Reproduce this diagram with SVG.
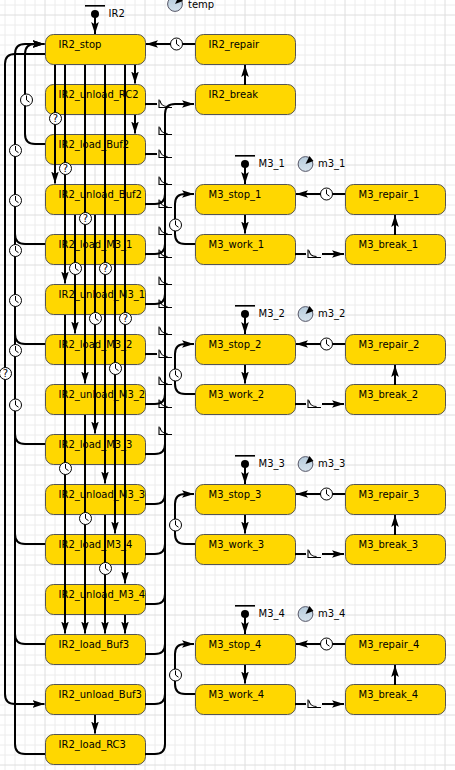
<svg xmlns="http://www.w3.org/2000/svg" width="455" height="770" viewBox="0 0 455 770">
<style>
.n{fill:#FFD700;stroke:#555;stroke-width:1}
text{font-family:"DejaVu Sans",sans-serif;font-size:10px;fill:#000}
.c{fill:none;stroke:#000;stroke-width:2}
.a{fill:none;stroke:#000;stroke-width:2;marker-end:url(#ah)}
.q{font-size:10px;text-anchor:middle}
.gm{fill:none;stroke:#ececec;stroke-width:1}
.gM{fill:none;stroke:#dedede;stroke-width:1}
.bar{fill:#000}
</style>
<defs>
<marker id="ah" markerUnits="userSpaceOnUse" markerWidth="13" markerHeight="9" refX="12" refY="4.5" orient="auto"><path d="M0 0.7L12 4.5L0 8.3L2.5 4.5Z" fill="#000"/></marker>
<g id="clk"><circle r="6" fill="#fff" stroke="#000" stroke-width="1"/><path d="M0-4.5V0L3 2.2" fill="none" stroke="#000" stroke-width="1"/></g>
<g id="qc"><circle r="6" fill="#fff" stroke="#000" stroke-width="1"/></g>
<g id="rate"><path d="M0 -4.5V3.5H13M1 -3.5Q2 2.5 8.5 2.5" fill="none" stroke="#000" stroke-width="1.1"/></g>
<linearGradient id="gg" x1="0" y1="0" x2="0" y2="1"><stop offset="0" stop-color="#b4cadb"/><stop offset="1" stop-color="#d6e3ec"/></linearGradient>
<g id="gauge"><circle r="7.4" fill="url(#gg)" stroke="#556" stroke-width="1"/><path d="M0 0L8-3L4-8Z" fill="#000"/></g>
</defs>
<g id="grid">
<path class="gm" d="M5 0V770M15 0V770M25 0V770M35 0V770M55 0V770M65 0V770M75 0V770M85 0V770M105 0V770M115 0V770M125 0V770M135 0V770M155 0V770M165 0V770M175 0V770M185 0V770M205 0V770M215 0V770M225 0V770M235 0V770M255 0V770M265 0V770M275 0V770M285 0V770M305 0V770M315 0V770M325 0V770M335 0V770M355 0V770M365 0V770M375 0V770M385 0V770M405 0V770M415 0V770M425 0V770M435 0V770M0 5H455M0 25H455M0 35H455M0 45H455M0 55H455M0 75H455M0 85H455M0 95H455M0 105H455M0 125H455M0 135H455M0 145H455M0 155H455M0 175H455M0 185H455M0 195H455M0 205H455M0 225H455M0 235H455M0 245H455M0 255H455M0 275H455M0 285H455M0 295H455M0 305H455M0 325H455M0 335H455M0 345H455M0 355H455M0 375H455M0 385H455M0 395H455M0 405H455M0 425H455M0 435H455M0 445H455M0 455H455M0 475H455M0 485H455M0 495H455M0 505H455M0 525H455M0 535H455M0 545H455M0 555H455M0 575H455M0 585H455M0 595H455M0 605H455M0 625H455M0 635H455M0 645H455M0 655H455M0 675H455M0 685H455M0 695H455M0 705H455M0 725H455M0 735H455M0 745H455M0 755H455"/>
<path class="gM" d="M45 0V770M95 0V770M145 0V770M195 0V770M245 0V770M295 0V770M345 0V770M395 0V770M445 0V770M0 15H455M0 65H455M0 115H455M0 165H455M0 215H455M0 265H455M0 315H455M0 365H455M0 415H455M0 465H455M0 515H455M0 565H455M0 615H455M0 665H455M0 715H455M0 765H455"/>
</g>
<g id="IR2_stop"><rect class="n" x="45.5" y="34.5" width="100" height="30" rx="8"/><text x="58.5" y="47.5">IR2_stop</text></g>
<g id="IR2_unload_RC2"><rect class="n" x="45.5" y="84.5" width="100" height="30" rx="8"/><text x="58.5" y="97.5">IR2_unload_RC2</text></g>
<g id="IR2_load_Buf2"><rect class="n" x="45.5" y="134.5" width="100" height="30" rx="8"/><text x="58.5" y="147.5">IR2_load_Buf2</text></g>
<g id="IR2_unload_Buf2"><rect class="n" x="45.5" y="184.5" width="100" height="30" rx="8"/><text x="58.5" y="197.5">IR2_unload_Buf2</text></g>
<g id="IR2_load_M3_1"><rect class="n" x="45.5" y="234.5" width="100" height="30" rx="8"/><text x="58.5" y="247.5">IR2_load_M3_1</text></g>
<g id="IR2_unload_M3_1"><rect class="n" x="45.5" y="284.5" width="100" height="30" rx="8"/><text x="58.5" y="297.5">IR2_unload_M3_1</text></g>
<g id="IR2_load_M3_2"><rect class="n" x="45.5" y="334.5" width="100" height="30" rx="8"/><text x="58.5" y="347.5">IR2_load_M3_2</text></g>
<g id="IR2_unload_M3_2"><rect class="n" x="45.5" y="384.5" width="100" height="30" rx="8"/><text x="58.5" y="397.5">IR2_unload_M3_2</text></g>
<g id="IR2_load_M3_3"><rect class="n" x="45.5" y="434.5" width="100" height="30" rx="8"/><text x="58.5" y="447.5">IR2_load_M3_3</text></g>
<g id="IR2_unload_M3_3"><rect class="n" x="45.5" y="484.5" width="100" height="30" rx="8"/><text x="58.5" y="497.5">IR2_unload_M3_3</text></g>
<g id="IR2_load_M3_4"><rect class="n" x="45.5" y="534.5" width="100" height="30" rx="8"/><text x="58.5" y="547.5">IR2_load_M3_4</text></g>
<g id="IR2_unload_M3_4"><rect class="n" x="45.5" y="584.5" width="100" height="30" rx="8"/><text x="58.5" y="597.5">IR2_unload_M3_4</text></g>
<g id="IR2_load_Buf3"><rect class="n" x="45.5" y="634.5" width="100" height="30" rx="8"/><text x="58.5" y="647.5">IR2_load_Buf3</text></g>
<g id="IR2_unload_Buf3"><rect class="n" x="45.5" y="684.5" width="100" height="30" rx="8"/><text x="58.5" y="697.5">IR2_unload_Buf3</text></g>
<g id="IR2_load_RC3"><rect class="n" x="45.5" y="734.5" width="100" height="30" rx="8"/><text x="58.5" y="747.5">IR2_load_RC3</text></g>
<g id="IR2_repair"><rect class="n" x="195.5" y="34.5" width="100" height="30" rx="8"/><text x="208.5" y="47.5">IR2_repair</text></g>
<g id="IR2_break"><rect class="n" x="195.5" y="84.5" width="100" height="30" rx="8"/><text x="208.5" y="97.5">IR2_break</text></g>
<g id="M3_stop_1"><rect class="n" x="195.5" y="184.5" width="100" height="30" rx="8"/><text x="208.5" y="197.5">M3_stop_1</text></g>
<g id="M3_work_1"><rect class="n" x="195.5" y="234.5" width="100" height="30" rx="8"/><text x="208.5" y="247.5">M3_work_1</text></g>
<g id="M3_repair_1"><rect class="n" x="345.5" y="184.5" width="100" height="30" rx="8"/><text x="358.5" y="197.5">M3_repair_1</text></g>
<g id="M3_break_1"><rect class="n" x="345.5" y="234.5" width="100" height="30" rx="8"/><text x="358.5" y="247.5">M3_break_1</text></g>
<g id="M3_stop_2"><rect class="n" x="195.5" y="334.5" width="100" height="30" rx="8"/><text x="208.5" y="347.5">M3_stop_2</text></g>
<g id="M3_work_2"><rect class="n" x="195.5" y="384.5" width="100" height="30" rx="8"/><text x="208.5" y="397.5">M3_work_2</text></g>
<g id="M3_repair_2"><rect class="n" x="345.5" y="334.5" width="100" height="30" rx="8"/><text x="358.5" y="347.5">M3_repair_2</text></g>
<g id="M3_break_2"><rect class="n" x="345.5" y="384.5" width="100" height="30" rx="8"/><text x="358.5" y="397.5">M3_break_2</text></g>
<g id="M3_stop_3"><rect class="n" x="195.5" y="484.5" width="100" height="30" rx="8"/><text x="208.5" y="497.5">M3_stop_3</text></g>
<g id="M3_work_3"><rect class="n" x="195.5" y="534.5" width="100" height="30" rx="8"/><text x="208.5" y="547.5">M3_work_3</text></g>
<g id="M3_repair_3"><rect class="n" x="345.5" y="484.5" width="100" height="30" rx="8"/><text x="358.5" y="497.5">M3_repair_3</text></g>
<g id="M3_break_3"><rect class="n" x="345.5" y="534.5" width="100" height="30" rx="8"/><text x="358.5" y="547.5">M3_break_3</text></g>
<g id="M3_stop_4"><rect class="n" x="195.5" y="634.5" width="100" height="30" rx="8"/><text x="208.5" y="647.5">M3_stop_4</text></g>
<g id="M3_work_4"><rect class="n" x="195.5" y="684.5" width="100" height="30" rx="8"/><text x="208.5" y="697.5">M3_work_4</text></g>
<g id="M3_repair_4"><rect class="n" x="345.5" y="634.5" width="100" height="30" rx="8"/><text x="358.5" y="647.5">M3_repair_4</text></g>
<g id="M3_break_4"><rect class="n" x="345.5" y="684.5" width="100" height="30" rx="8"/><text x="358.5" y="697.5">M3_break_4</text></g>
<g id="var_IR2"><rect class="bar" x="85" y="5" width="20" height="1.6"/><circle cx="95" cy="14" r="4"/><text x="108.5" y="17">IR2</text></g>
<g id="var_temp"><use href="#gauge" x="175" y="4"/><text x="188" y="7.5">temp</text></g>
<g id="var_M3_1"><rect class="bar" x="235" y="155" width="20" height="1.6"/><circle cx="245" cy="164" r="4"/><text x="258.5" y="167">M3_1</text></g>
<g id="var_m3_1"><use href="#gauge" x="305.5" y="164"/><text x="318" y="167">m3_1</text></g>
<g id="var_M3_2"><rect class="bar" x="235" y="305" width="20" height="1.6"/><circle cx="245" cy="314" r="4"/><text x="258.5" y="317">M3_2</text></g>
<g id="var_m3_2"><use href="#gauge" x="305.5" y="314"/><text x="318" y="317">m3_2</text></g>
<g id="var_M3_3"><rect class="bar" x="235" y="455" width="20" height="1.6"/><circle cx="245" cy="464" r="4"/><text x="258.5" y="467">M3_3</text></g>
<g id="var_m3_3"><use href="#gauge" x="305.5" y="464"/><text x="318" y="467">m3_3</text></g>
<g id="var_M3_4"><rect class="bar" x="235" y="605" width="20" height="1.6"/><circle cx="245" cy="614" r="4"/><text x="258.5" y="617">M3_4</text></g>
<g id="var_m3_4"><use href="#gauge" x="305.5" y="614"/><text x="318" y="617">m3_4</text></g>
<g id="connectors">
<path class="a" d="M95 14V34"/>
<path class="a" d="M245 164V184"/><path class="a" d="M245 314V334"/><path class="a" d="M245 464V484"/><path class="a" d="M245 614V634"/>
<path class="a" d="M195 44H146"/>
<path class="a" d="M245 85V65"/>
<path class="a" d="M135 65V83.500"/><path class="a" d="M135 115V133.500"/>
<path class="a" d="M95 715V733.500"/>
<path class="a" d="M55 65V183.500"/>
<path class="a" d="M65 65V283.500"/>
<path class="a" d="M85 65V383.500"/>
<path class="a" d="M105 65V483.500"/>
<path class="a" d="M125 65V583.500"/>
<path class="a" d="M75 215V333.500"/>
<path class="a" d="M95 215V433.500"/>
<path class="a" d="M115 215V533.500"/>
<path class="a" d="M65 315V633.500"/>
<path class="a" d="M85 415V633.500"/>
<path class="a" d="M105 515V633.500"/>
<path class="a" d="M125 615V633.500"/>
<path class="a" d="M45 54H15Q5 54 5 64V694Q5 704 15 704H44.500"/>
<path class="a" d="M45 754H25Q15 754 15 744V54Q15 44 25 44H44.500"/>
<path class="a" d="M45 144H35Q25 144 25 134V54Q25 44 35 44H44.500"/>
<path class="c" d="M45 244H25Q15 244 15 234"/>
<path class="c" d="M45 344H25Q15 344 15 334"/>
<path class="c" d="M45 444H25Q15 444 15 434"/>
<path class="c" d="M45 544H25Q15 544 15 534"/>
<path class="c" d="M45 644H25Q15 644 15 634"/>
<path class="a" d="M145 754H155Q165 754 165 744V114Q165 104 175 104H194"/>
<path class="c" d="M145 104H157"/>
<path class="c" d="M145 154H157"/>
<path class="c" d="M145 204H155Q165 204 165 194"/>
<path class="c" d="M145 254H155Q165 254 165 244"/>
<path class="c" d="M145 304H155Q165 304 165 294"/>
<path class="c" d="M145 354H157"/>
<path class="c" d="M145 404H155Q165 404 165 394"/>
<path class="c" d="M145 454H155Q165 454 165 444"/>
<path class="c" d="M145 504H155Q165 504 165 494"/>
<path class="c" d="M145 554H155Q165 554 165 544"/>
<path class="c" d="M145 604H155Q165 604 165 594"/>
<path class="c" d="M145 654H155Q165 654 165 644"/>
<path class="c" d="M145 704H155Q165 704 165 694"/>
<path class="a" d="M195 244H185Q175 244 175 234V204Q175 194 185 194H194"/>
<path class="a" d="M195 394H185Q175 394 175 384V354Q175 344 185 344H194"/>
<path class="a" d="M195 544H185Q175 544 175 534V504Q175 494 185 494H194"/>
<path class="a" d="M195 694H185Q175 694 175 684V654Q175 644 185 644H194"/>
<path class="a" d="M245 215V233.500"/><path class="a" d="M245 365V383.500"/><path class="a" d="M245 515V533.500"/><path class="a" d="M245 665V683.500"/>
<path class="a" d="M345 194H296"/><path class="a" d="M345 344H296"/><path class="a" d="M345 494H296"/><path class="a" d="M345 644H296"/>
<path class="a" d="M395 235V215"/><path class="a" d="M395 385V365"/><path class="a" d="M395 535V515"/><path class="a" d="M395 685V665"/>
<path class="c" d="M295 254H306"/><path class="a" d="M322 254H344"/>
<path class="c" d="M295 404H306"/><path class="a" d="M322 404H344"/>
<path class="c" d="M295 554H306"/><path class="a" d="M322 554H344"/>
<path class="c" d="M295 704H306"/><path class="a" d="M322 704H344"/>
<use href="#rate" x="308" y="254"/><use href="#rate" x="308" y="404"/><use href="#rate" x="308" y="554"/><use href="#rate" x="308" y="704"/>
<use href="#rate" x="159" y="104"/><use href="#rate" x="159" y="131"/><use href="#rate" x="159" y="154"/><use href="#rate" x="159" y="181"/><use href="#rate" x="159" y="204"/><use href="#rate" x="159" y="231"/><use href="#rate" x="159" y="254"/><use href="#rate" x="159" y="281"/><use href="#rate" x="159" y="304"/><use href="#rate" x="159" y="331"/><use href="#rate" x="159" y="354"/><use href="#rate" x="159" y="381"/><use href="#rate" x="159" y="404"/><use href="#rate" x="159" y="431"/>
<use href="#clk" x="176.500" y="44"/>
<use href="#clk" x="326.500" y="194"/><use href="#clk" x="326.500" y="344"/><use href="#clk" x="326.500" y="494"/><use href="#clk" x="326.500" y="644"/>
<use href="#clk" x="175.500" y="225"/><use href="#clk" x="175.500" y="375"/><use href="#clk" x="175.500" y="525"/><use href="#clk" x="175.500" y="675"/>
<use href="#clk" x="26.500" y="100"/>
<use href="#clk" x="15.500" y="150.500"/><use href="#clk" x="15.500" y="200.500"/><use href="#clk" x="15.500" y="250.500"/><use href="#clk" x="15.500" y="300.500"/><use href="#clk" x="15.500" y="350.500"/><use href="#clk" x="15.500" y="405"/>
<use href="#clk" x="75.500" y="268.500"/><use href="#clk" x="95.500" y="318.500"/><use href="#clk" x="115.500" y="368.500"/>
<use href="#clk" x="65.500" y="468.500"/><use href="#clk" x="85.500" y="518.500"/><use href="#clk" x="105.500" y="568.500"/>
<use href="#qc" x="55.500" y="118.500"/><text class="q" x="55.500" y="122">?</text>
<use href="#qc" x="65.500" y="168.500"/><text class="q" x="65.500" y="172">?</text>
<use href="#qc" x="85.500" y="218.500"/><text class="q" x="85.500" y="222">?</text>
<use href="#qc" x="105.500" y="268.500"/><text class="q" x="105.500" y="272">?</text>
<use href="#qc" x="125.500" y="318.500"/><text class="q" x="125.500" y="322">?</text>
<use href="#qc" x="5.500" y="373.500"/><text class="q" x="5.500" y="377">?</text>
</g>
</svg>
